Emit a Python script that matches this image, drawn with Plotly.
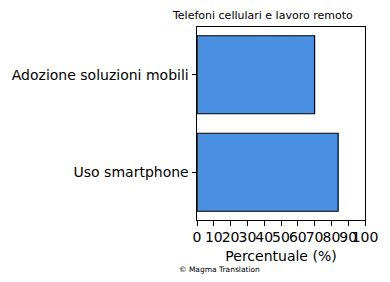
import plotly.graph_objects as go

categories = ["Uso smartphone", "Adozione soluzioni mobili"]
values = [84, 70]
tick_vals = [0, 10, 20, 30, 40, 50, 60, 70, 80, 90, 100]
tick_text = [str(v) for v in tick_vals]

FONT = "DejaVu Sans"

fig = go.Figure()
fig.add_trace(go.Bar(
    x=values, y=categories, orientation="h",
    marker=dict(color="#4a90e2", line=dict(color="black", width=1.2)),
    width=0.8,
))

L, R, T, B = 195.7, 367.3, 26.6, 220.0
W, H = 390, 282
fig.update_layout(
    width=W, height=H,
    margin=dict(l=L, r=W - R, t=T, b=H - B, pad=0),
    paper_bgcolor="white", plot_bgcolor="white",
    showlegend=False,
    font=dict(family=FONT, color="black"),
    xaxis=dict(
        range=[0, 100], tickvals=tick_vals, ticktext=tick_text, tickangle=0,
        ticks="outside", ticklen=4.5, tickwidth=1, tickcolor="black",
        showline=True, linecolor="black", linewidth=1, mirror=True,
        showgrid=False, zeroline=False,
        tickfont=dict(size=14, family=FONT, color="black"),
        title=dict(text="Percentuale (%)", font=dict(size=14, family=FONT), standoff=6),
    ),
    yaxis=dict(
        type="category", range=[-0.49, 1.49],
        ticks="outside", ticklen=4.5, tickwidth=1, tickcolor="black",
        showline=True, linecolor="black", linewidth=1, mirror=True,
        showgrid=False, zeroline=False,
        tickfont=dict(size=14, family=FONT, color="black"),
    ),
    annotations=[
        dict(text="Telefoni cellulari e lavoro remoto", x=263 / W, y=1 - 15 / H,
             xref="paper", yref="paper", xanchor="center", yanchor="middle",
             showarrow=False, font=dict(size=11, family=FONT, color="black")),
        dict(text="© Magma Translation", x=175 / W, y=1 - 269.5 / H,
             xref="paper", yref="paper", xanchor="left", yanchor="middle",
             showarrow=False, font=dict(size=7.5, family=FONT, color="black")),
    ],
)
for a in fig.layout.annotations:
    px = a.x * W
    py = (1 - a.y) * H
    a.x = (px - L) / (R - L)
    a.y = (B - py) / (B - T)

fig.write_html("out.html")
